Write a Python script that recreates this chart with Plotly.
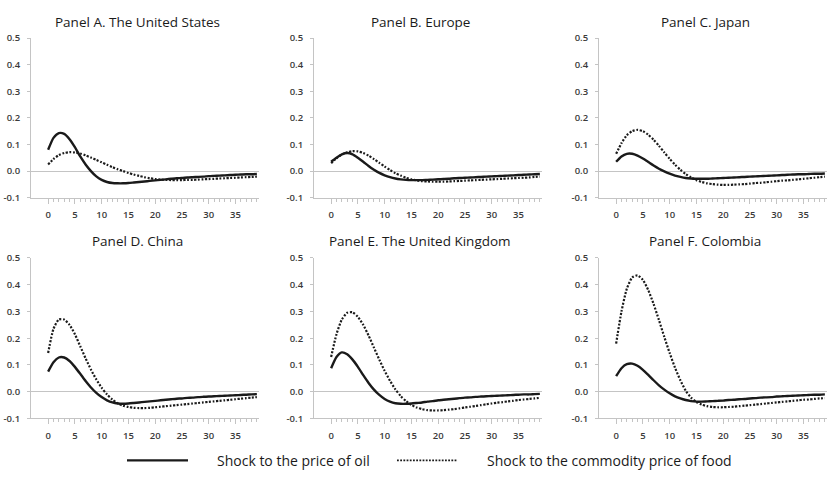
import plotly.graph_objects as go

# Horizon (quarters after the shock)
periods = list(range(40))

panel_titles = [
    "Panel A. The United States",
    "Panel B. Europe",
    "Panel C. Japan",
    "Panel D. China",
    "Panel E. The United Kingdom",
    "Panel F. Colombia",
]

# Impulse responses to a shock to the price of oil
oil_us = [0.080, 0.125, 0.143, 0.140, 0.120, 0.090, 0.055, 0.025, 0.000, -0.020,
          -0.033, -0.041, -0.045, -0.046, -0.046, -0.045, -0.043, -0.041, -0.039, -0.037,
          -0.035, -0.033, -0.031, -0.029, -0.027, -0.026, -0.024, -0.023, -0.022, -0.021,
          -0.019, -0.018, -0.017, -0.016, -0.015, -0.014, -0.013, -0.012, -0.012, -0.011]
oil_eu = [0.035, 0.050, 0.063, 0.068, 0.063, 0.050, 0.035, 0.019, 0.005, -0.007,
          -0.016, -0.023, -0.028, -0.031, -0.033, -0.034, -0.034, -0.034, -0.033, -0.032,
          -0.031, -0.030, -0.029, -0.027, -0.026, -0.025, -0.024, -0.023, -0.022, -0.021,
          -0.020, -0.019, -0.018, -0.017, -0.016, -0.015, -0.014, -0.013, -0.012, -0.011]
oil_jp = [0.035, 0.055, 0.065, 0.065, 0.058, 0.047, 0.034, 0.021, 0.009, -0.001,
          -0.010, -0.017, -0.022, -0.026, -0.028, -0.029, -0.029, -0.029, -0.028, -0.027,
          -0.026, -0.025, -0.024, -0.023, -0.022, -0.021, -0.020, -0.019, -0.018, -0.017,
          -0.016, -0.015, -0.014, -0.013, -0.012, -0.012, -0.011, -0.010, -0.010, -0.009]
oil_cn = [0.075, 0.110, 0.128, 0.128, 0.115, 0.093, 0.067, 0.040, 0.016, -0.004,
          -0.020, -0.032, -0.040, -0.044, -0.045, -0.044, -0.042, -0.040, -0.038, -0.036,
          -0.034, -0.032, -0.030, -0.028, -0.026, -0.025, -0.023, -0.022, -0.020, -0.019,
          -0.018, -0.017, -0.016, -0.015, -0.014, -0.013, -0.012, -0.011, -0.010, -0.009]
oil_uk = [0.088, 0.130, 0.147, 0.140, 0.120, 0.093, 0.062, 0.033, 0.008, -0.012,
          -0.027, -0.037, -0.043, -0.045, -0.045, -0.044, -0.042, -0.040, -0.037, -0.035,
          -0.032, -0.030, -0.028, -0.026, -0.024, -0.022, -0.021, -0.019, -0.018, -0.017,
          -0.016, -0.015, -0.014, -0.013, -0.012, -0.011, -0.010, -0.010, -0.009, -0.008]
oil_co = [0.058, 0.088, 0.103, 0.105, 0.097, 0.082, 0.063, 0.043, 0.024, 0.008,
          -0.006, -0.017, -0.025, -0.031, -0.035, -0.037, -0.037, -0.036, -0.035, -0.034,
          -0.033, -0.031, -0.030, -0.028, -0.027, -0.025, -0.024, -0.022, -0.021, -0.020,
          -0.018, -0.017, -0.016, -0.015, -0.014, -0.013, -0.012, -0.011, -0.011, -0.010]

# Impulse responses to a shock to the commodity price of food
food_us = [0.025, 0.045, 0.060, 0.068, 0.071, 0.070, 0.066, 0.059, 0.051, 0.042,
           0.033, 0.024, 0.015, 0.007, 0.000, -0.007, -0.013, -0.018, -0.023, -0.027,
           -0.030, -0.032, -0.033, -0.034, -0.034, -0.034, -0.033, -0.033, -0.032, -0.031,
           -0.030, -0.029, -0.028, -0.027, -0.026, -0.025, -0.024, -0.023, -0.022, -0.021]
food_eu = [0.030, 0.048, 0.062, 0.071, 0.075, 0.074, 0.068, 0.058, 0.045, 0.031,
           0.017, 0.004, -0.008, -0.017, -0.025, -0.031, -0.035, -0.038, -0.039, -0.040,
           -0.040, -0.040, -0.039, -0.038, -0.037, -0.036, -0.035, -0.034, -0.033, -0.032,
           -0.031, -0.030, -0.029, -0.028, -0.027, -0.026, -0.025, -0.024, -0.022, -0.021]
food_jp = [0.065, 0.105, 0.135, 0.150, 0.155, 0.150, 0.137, 0.118, 0.095, 0.070,
           0.046, 0.024, 0.005, -0.011, -0.024, -0.034, -0.041, -0.046, -0.049, -0.051,
           -0.052, -0.052, -0.051, -0.050, -0.049, -0.047, -0.045, -0.044, -0.042, -0.040,
           -0.038, -0.036, -0.035, -0.033, -0.031, -0.029, -0.027, -0.025, -0.023, -0.021]
food_cn = [0.145, 0.235, 0.270, 0.270, 0.250, 0.215, 0.170, 0.125, 0.083, 0.046,
           0.015, -0.010, -0.029, -0.043, -0.052, -0.057, -0.060, -0.061, -0.061, -0.060,
           -0.058, -0.056, -0.054, -0.052, -0.050, -0.048, -0.046, -0.044, -0.042, -0.040,
           -0.038, -0.036, -0.034, -0.032, -0.030, -0.028, -0.026, -0.024, -0.022, -0.020]
food_uk = [0.130, 0.215, 0.270, 0.295, 0.297, 0.280, 0.250, 0.210, 0.165, 0.120,
           0.078, 0.041, 0.009, -0.016, -0.035, -0.049, -0.059, -0.065, -0.069, -0.070,
           -0.070, -0.069, -0.067, -0.065, -0.062, -0.059, -0.056, -0.053, -0.050, -0.047,
           -0.044, -0.041, -0.039, -0.036, -0.034, -0.031, -0.029, -0.027, -0.025, -0.023]
food_co = [0.180, 0.300, 0.385, 0.427, 0.435, 0.418, 0.380, 0.328, 0.268, 0.205,
           0.145, 0.090, 0.043, 0.004, -0.022, -0.038, -0.048, -0.054, -0.057, -0.058,
           -0.058, -0.057, -0.056, -0.054, -0.052, -0.050, -0.048, -0.046, -0.044, -0.042,
           -0.040, -0.038, -0.036, -0.034, -0.032, -0.030, -0.029, -0.027, -0.025, -0.024]

oil_series = [oil_us, oil_eu, oil_jp, oil_cn, oil_uk, oil_co]
food_series = [food_us, food_eu, food_jp, food_cn, food_uk, food_co]

legend_labels = ["Shock to the price of oil", "Shock to the commodity price of food"]

y_ticks = [-0.1, 0.0, 0.1, 0.2, 0.3, 0.4, 0.5]
y_ticktext = ["-0.1", "0.0", "0.1", "0.2", "0.3", "0.4", "0.5"]
x_ticks = [0, 5, 10, 15, 20, 25, 30, 35]

W, H = 828, 478
AXIS_GRAY = "#c4c4c4"
LINE_BLACK = "#1a1a1a"
FONT = "Open Sans"
TICK_FONT = dict(family=FONT, size=9.5, color="#3a3a3a", weight=600)

# Panel placement in pixels: (left, right) per column, (top, bottom) per row
col_px = [(31, 259), (314, 542), (599, 827)]
row_px = [(32, 196), (258, 423)]
title_cx = [137, 420, 705]

fig = go.Figure()
layout_axes = {}
annotations = []

for i in range(6):
    r, c = divmod(i, 3)
    n = "" if i == 0 else str(i + 1)
    xa, ya = "x" + n, "y" + n
    x0, x1 = col_px[c]
    top, bot = row_px[r]

    fig.add_trace(go.Scatter(
        x=periods, y=oil_series[i], xaxis=xa, yaxis=ya, mode="lines",
        line=dict(color=LINE_BLACK, width=2.4, shape="spline", smoothing=0.6),
        name=legend_labels[0], showlegend=False, hoverinfo="skip"))
    fig.add_trace(go.Scatter(
        x=periods, y=food_series[i], xaxis=xa, yaxis=ya, mode="lines",
        line=dict(color=LINE_BLACK, width=2.2, dash="2px,1.6px", shape="spline", smoothing=0.6),
        name=legend_labels[1], showlegend=False, hoverinfo="skip"))

    layout_axes["xaxis" + n] = dict(
        domain=[x0 / W, x1 / W], anchor=ya, range=[-3.2, 39.4],
        tickmode="array", tickvals=x_ticks, ticks="outside", ticklen=5,
        tickcolor=AXIS_GRAY, tickwidth=1, showline=True, linecolor=AXIS_GRAY,
        linewidth=1, showgrid=False, zeroline=False, tickfont=TICK_FONT,
        ticklabelstandoff=3,
        minor=dict(tickmode="array", tickvals=[k for k in periods if k % 5],
                   ticks="outside", ticklen=3, tickcolor=AXIS_GRAY, tickwidth=1,
                   showgrid=False),
    )
    layout_axes["yaxis" + n] = dict(
        domain=[1 - bot / H, 1 - top / H], anchor=xa, range=[-0.1, 0.5],
        tickmode="array", tickvals=y_ticks, ticktext=y_ticktext,
        ticks="outside", ticklen=3, tickcolor=AXIS_GRAY, tickwidth=1,
        showline=True, linecolor=AXIS_GRAY, linewidth=1, showgrid=False,
        zeroline=True, zerolinecolor=AXIS_GRAY, zerolinewidth=1.2,
        tickfont=TICK_FONT, ticklabelstandoff=5,
    )

    annotations.append(dict(
        text=panel_titles[i], xref="paper", yref="paper",
        x=title_cx[c] / W, y=1 - (top - 17) / H, xanchor="center", yanchor="middle",
        showarrow=False, font=dict(family=FONT, size=13.5, color="#1a1a1a")))

# Legend row at the bottom
legend_y = 1 - 466 / H
shapes = [
    dict(type="line", xref="paper", yref="paper", x0=127 / W, x1=188 / W,
         y0=legend_y, y1=legend_y, line=dict(color=LINE_BLACK, width=2.4)),
    dict(type="line", xref="paper", yref="paper", x0=397 / W, x1=457 / W,
         y0=legend_y, y1=legend_y, line=dict(color=LINE_BLACK, width=1.8, dash="1.8px,1.4px")),
]
annotations.append(dict(text=legend_labels[0], xref="paper", yref="paper",
                        x=215 / W, y=legend_y, xanchor="left", yanchor="middle",
                        showarrow=False, font=dict(family=FONT, size=14, color="#1a1a1a")))
annotations.append(dict(text=legend_labels[1], xref="paper", yref="paper",
                        x=485 / W, y=legend_y, xanchor="left", yanchor="middle",
                        showarrow=False, font=dict(family=FONT, size=14, color="#1a1a1a")))

fig.update_layout(
    width=W, height=H, margin=dict(l=0, r=0, t=0, b=0),
    paper_bgcolor="white", plot_bgcolor="white",
    showlegend=False, annotations=annotations, shapes=shapes,
    **layout_axes,
)

fig.write_html("out.html")
